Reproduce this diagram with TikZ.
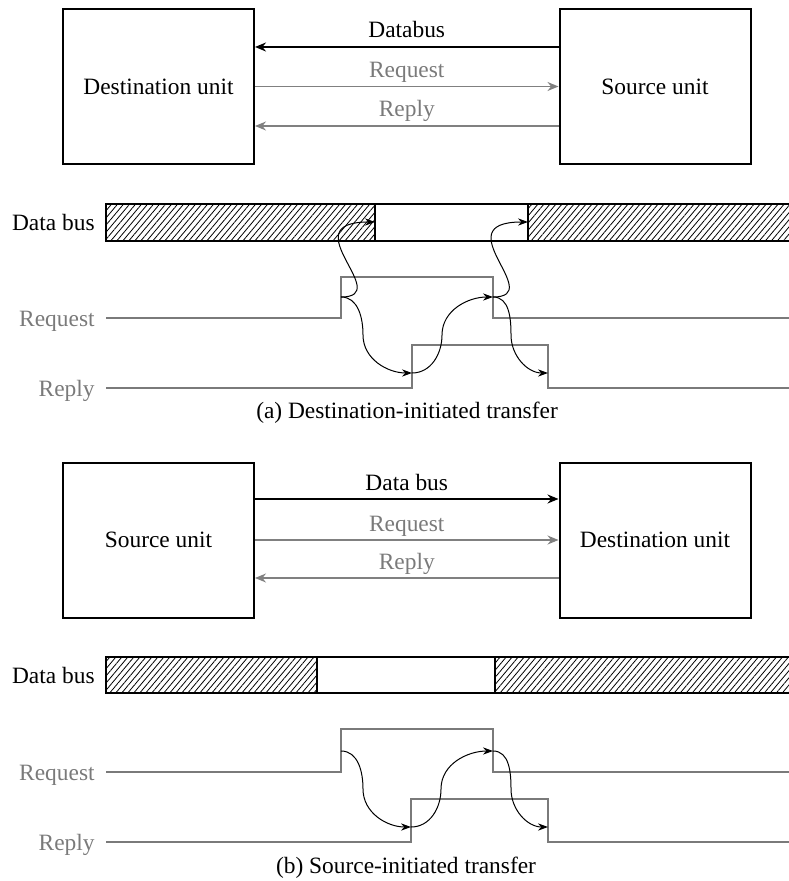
\documentclass[tikz,border=0pt]{standalone}
\usepackage{fontspec}
\setmainfont{Liberation Serif}
\usetikzlibrary{arrows.meta,patterns.meta}
\definecolor{sigC}{HTML}{7A7A7A}
\definecolor{wireC}{HTML}{808080}
\tikzset{
  unit/.style={draw, line width=1pt, minimum width=95.5pt, minimum height=77.5pt, inner sep=0pt},
  busline/.style={-{Stealth[length=5.5pt,width=4.5pt]}, line width=1pt},
  hsline/.style={-{Stealth[length=5.5pt,width=4.5pt]}, draw=wireC, line width=0.6pt},
  lbl/.style={anchor=base, yshift=4.5pt, inner sep=0pt},
  signame/.style={anchor=east, inner sep=0pt, text height=8.5pt, text depth=0pt},
  sig/.style={draw=sigC, line width=1.1pt},
  busbox/.style={draw, line width=1pt},
  hatch/.style={busbox, pattern={Lines[angle=50,distance=2.3pt,line width=0.4pt]}},
  cause/.style={-{Stealth[length=5pt,width=3.6pt]}, line width=0.5pt},
  caption/.style={inner sep=0pt},
}
\begin{document}
\begin{tikzpicture}[x=0.5pt, y=-0.5pt, font=\fontsize{11.7}{14}\selectfont]
\useasboundingbox (0,0) rectangle (788,881);
% (a) destination-initiated
\node[unit] (dstA) at (158.5,86.5) {Destination unit};
\node[unit] (srcA) at (655,86.5)   {Source unit};
\draw[busline] ([yshift=19.75pt]srcA.west) -- node[lbl] (dbA) {Databus} ([yshift=19.75pt]dstA.east);
\draw[hsline] (dstA) -- node[lbl, text=sigC] (rqlA) {Request} (srcA);
\draw[hsline] ([yshift=-19.75pt]srcA.west) -- node[lbl, text=sigC] (rplA) {Reply} ([yshift=-19.75pt]dstA.east);

\node[signame] (busA) at (95,222.5) {Data bus};
\node[signame, text=sigC] (reqA) at (95,318) {Request};
\node[signame, text=sigC] (repA) at (95,388) {Reply};
\draw[hatch]  (106,204) rectangle (375,241);
\draw[busbox] (375,204) rectangle (528,241);
\draw[hatch]  (528,204) rectangle (792,241);
\draw[sig] (106,318) -| (341,277) -| (493,318) -- (792,318);
\draw[sig] (106,388) -| (412,345) -| (548,388) -- (792,388);
\coordinate (q1A) at (341,297);
\coordinate (q2A) at (493,297);
\coordinate (d1A) at (375,222);
\coordinate (d2A) at (528,222);
\coordinate (p1A) at (412,373);
\coordinate (p2A) at (548,373);
\draw[cause] (q1A) .. controls +(54,0) and +(-85,0) .. (d1A);
\draw[cause] (q2A) .. controls +(54,0) and +(-85,0) .. (d2A);
\draw[cause] (q1A) to[out=0,in=90] ++(22,38) to[out=-90,in=180] (p1A);
\draw[cause] (p1A) to[out=0,in=-90] ++(30,-38) to[out=90,in=180] (q2A);
\draw[cause] (q2A) to[out=0,in=90] ++(18,38) to[out=-90,in=180] (p2A);
\node[caption] (capA) at (407,413) {(a) Destination-initiated transfer};

% (b) source-initiated
\node[unit] (srcB) at (158.5,540) {Source unit};
\node[unit] (dstB) at (655,540)   {Destination unit};
\draw[busline] ([yshift=20.5pt]srcB.east) -- node[lbl] (dbB) {Data bus} ([yshift=20.5pt]dstB.west);
\draw[hsline] (srcB) -- node[lbl, text=sigC] (rqlB) {Request} (dstB);
\draw[hsline] ([yshift=-19pt]dstB.west) -- node[lbl, text=sigC] (rplB) {Reply} ([yshift=-19pt]srcB.east);

\node[signame] (busB) at (95,675) {Data bus};
\node[signame, text=sigC] (reqB) at (95,772) {Request};
\node[signame, text=sigC] (repB) at (95,842) {Reply};
\draw[hatch]  (106,657) rectangle (317,693);
\draw[busbox] (317,657) rectangle (495,693);
\draw[hatch]  (495,657) rectangle (792,693);
\draw[sig] (106,772) -| (341,729) -| (493,772) -- (792,772);
\draw[sig] (106,842) -| (411,799) -| (548,842) -- (792,842);
\coordinate (q1B) at (341,751);
\coordinate (q2B) at (493,751);
\coordinate (p1B) at (411,827);
\coordinate (p2B) at (548,827);
\draw[cause] (q1B) to[out=0,in=90] ++(22,38) to[out=-90,in=180] (p1B);
\draw[cause] (p1B) to[out=0,in=-90] ++(30,-38) to[out=90,in=180] (q2B);
\draw[cause] (q2B) to[out=0,in=90] ++(18,38) to[out=-90,in=180] (p2B);
\node[caption] (capB) at (406,868) {(b) Source-initiated transfer};
\end{tikzpicture}
\end{document}
